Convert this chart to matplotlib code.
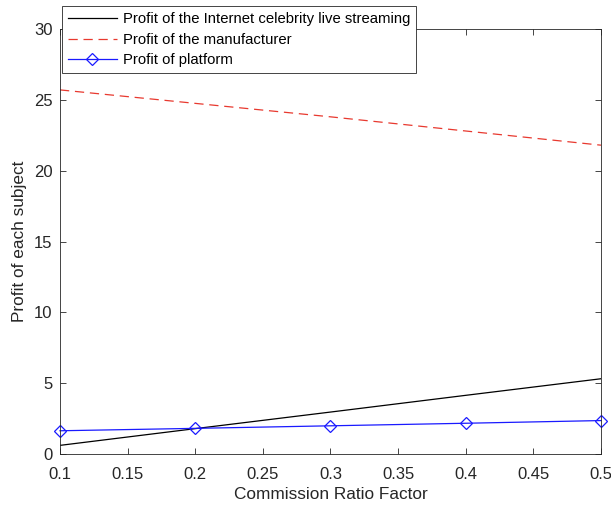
import numpy as np
import matplotlib.pyplot as plt

plt.rcParams['font.family'] = ['Liberation Sans', 'DejaVu Sans']

# data
ratio = [0.1, 0.2, 0.3, 0.4, 0.5]
live_profit = [0.62, 1.8, 2.97, 4.15, 5.32]
maker_profit = [25.7, 24.75, 23.8, 22.8, 21.8]
platform_profit = [1.65, 1.82, 2.0, 2.18, 2.37]

labels = ['Profit of the Internet celebrity live streaming',
          'Profit of the manufacturer',
          'Profit of platform']

fig = plt.figure(figsize=(6.11, 5.08), dpi=100)
ax = fig.add_axes([0.0982, 0.106, 0.8854, 0.837])

ax.plot(ratio, live_profit, color='black', lw=0.9, label=labels[0])
ax.plot(ratio, maker_profit, color='#e8392f', lw=0.9, ls=(0, (7.4, 4.6)), label=labels[1])
ax.plot(ratio, platform_profit, color='#1a1aff', lw=0.9, marker='D', ms=6.2,
        mfc='none', mec='#1a1aff', mew=0.9, label=labels[2], clip_on=False)

ax.set_xlim(0.1, 0.5)
ax.set_ylim(0, 30)
ax.set_xticks(np.arange(0.1, 0.51, 0.05))
ax.set_xticklabels(['0.1', '0.15', '0.2', '0.25', '0.3', '0.35', '0.4', '0.45', '0.5'])
ax.set_yticks([0, 5, 10, 15, 20, 25, 30])
ax.tick_params(direction='in', top=True, right=True, labelsize=12, length=4,
               width=0.6, colors='#262626', labelcolor='#262626')
ax.tick_params(axis='x', pad=9)
ax.tick_params(axis='y', pad=5.5)
for s in ax.spines.values():
    s.set_linewidth(0.6)
    s.set_color('#262626')

ax.set_xlabel('Commission Ratio Factor', fontsize=12.4, color='#262626', labelpad=4)
ax.set_ylabel('Profit of each subject', fontsize=12.4, color='#262626', labelpad=5)

leg = ax.legend(loc='upper left', bbox_to_anchor=(0.1015, 0.988),
                bbox_transform=fig.transFigure, borderaxespad=0,
                fancybox=False, framealpha=1, edgecolor='#262626',
                fontsize=10.7, handlelength=3.3, handletextpad=0.4,
                labelspacing=0.45, borderpad=0.4)
leg.get_frame().set_linewidth(0.6)

fig.savefig('out.png', dpi=100)
